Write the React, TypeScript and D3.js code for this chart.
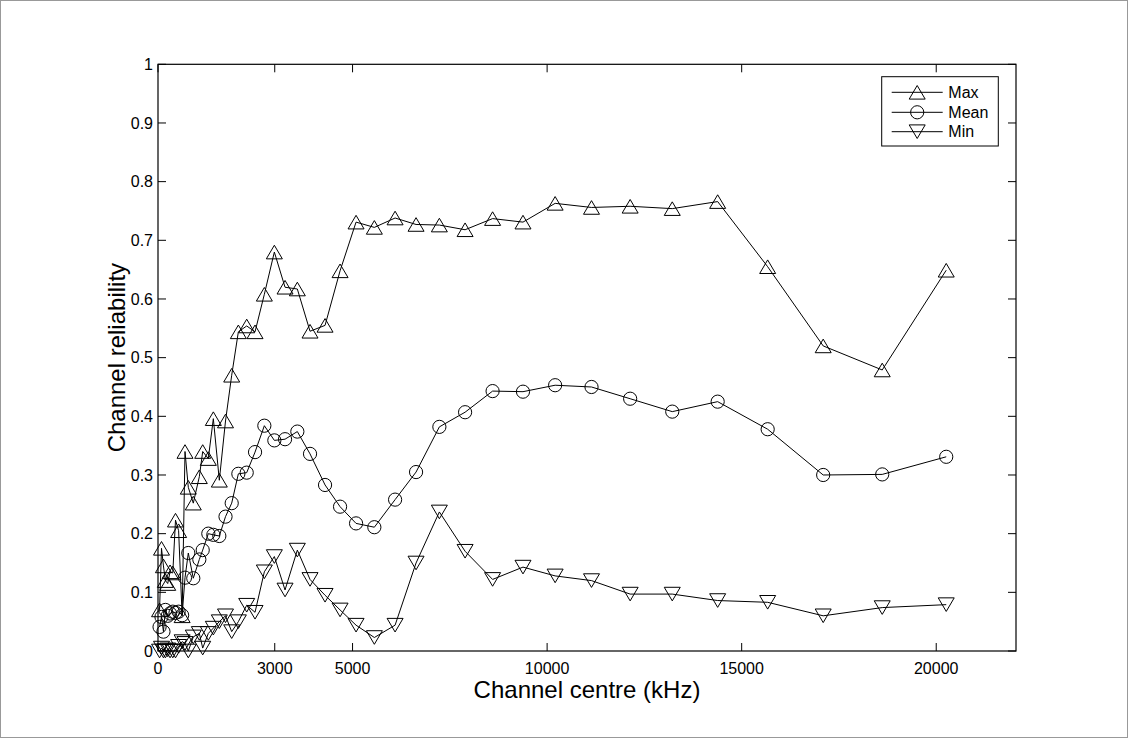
import React from "react";
import * as d3 from "d3";

// Channel centres (kHz axis units as labelled)
const channels = [
  40, 90, 140, 190, 250, 310, 380, 450, 530, 620,
  694, 779, 907, 1062, 1149, 1293, 1422, 1576, 1735, 1894,
  2065, 2280, 2494, 2733, 2990, 3265, 3581, 3907, 4293, 4679,
  5090, 5560, 6093, 6632, 7231, 7892, 8599, 9380, 10206, 11141,
  12134, 13216, 14383, 15668, 17095, 18612, 20257,
];

const maxValues = [
  0.07, 0.175, 0.145, 0.12, 0.115, 0.135, 0.133, 0.223, 0.205, 0.06,
  0.34, 0.279, 0.252, 0.297, 0.34, 0.328, 0.396, 0.291, 0.392, 0.47,
  0.544, 0.554, 0.544, 0.608, 0.68, 0.62, 0.617, 0.545, 0.555, 0.648,
  0.731, 0.722, 0.738, 0.727, 0.726, 0.718, 0.737, 0.731, 0.763, 0.756,
  0.758, 0.754, 0.766, 0.655, 0.52, 0.479, 0.649,
];

const meanValues = [
  0.041, 0.058, 0.033, 0.07, 0.06, 0.064, 0.067, 0.065, 0.067, 0.061,
  0.125, 0.167, 0.124, 0.156, 0.172, 0.2, 0.198, 0.196, 0.229, 0.252,
  0.302, 0.304, 0.339, 0.384, 0.359, 0.361, 0.374, 0.336, 0.283, 0.246,
  0.2175, 0.211, 0.258, 0.305, 0.382, 0.407, 0.443, 0.442, 0.453, 0.45,
  0.43, 0.408, 0.425, 0.378, 0.3, 0.301, 0.331,
];

const minValues = [
  0.0, 0.005, 0.0, 0.0, 0.002, 0.0, 0.0, 0.0, 0.008, 0.016,
  0.013, 0.0, 0.024, 0.03, 0.005, 0.03, 0.039, 0.05, 0.06, 0.033,
  0.05, 0.078, 0.066, 0.135, 0.161, 0.104, 0.172, 0.122, 0.095, 0.07,
  0.044, 0.023, 0.044, 0.15, 0.237, 0.17, 0.122, 0.143, 0.128, 0.12,
  0.097, 0.097, 0.086, 0.083, 0.06, 0.074, 0.079,
];

const xTicks = [0, 3000, 5000, 10000, 15000, 20000];
const xTickLabels = ["0", "3000", "5000", "10000", "15000", "20000"];
const yTicks = [0, 0.1, 0.2, 0.3, 0.4, 0.5, 0.6, 0.7, 0.8, 0.9, 1];
const yTickLabels = ["0", "0.1", "0.2", "0.3", "0.4", "0.5", "0.6", "0.7", "0.8", "0.9", "1"];
const seriesNames = ["Max", "Mean", "Min"];

const W = 1128;
const H = 738;
const L = 158, R = 1016, T = 64.3, B = 651;
const FONT = "'Liberation Sans', Arial, Helvetica, sans-serif";

function Marker({ kind, x, y }: { kind: string; x: number; y: number }) {
  const hw = 8, hh = 6.8;
  if (kind === "up") {
    return <path d={`M${x},${y - hh}L${x + hw},${y + hh}L${x - hw},${y + hh}Z`} fill="none" stroke="#000" strokeWidth={1} />;
  }
  if (kind === "down") {
    return <path d={`M${x},${y + hh}L${x + hw},${y - hh}L${x - hw},${y - hh}Z`} fill="none" stroke="#000" strokeWidth={1} />;
  }
  return <circle cx={x} cy={y} r={6.6} fill="none" stroke="#000" strokeWidth={1} />;
}

export default function App() {
  const x = d3.scaleLinear().domain([0, 22050]).range([L, R]);
  const y = d3.scaleLinear().domain([0, 1]).range([B, T]);
  const line = d3.line<[number, number]>().x((d) => x(d[0])).y((d) => y(d[1]));

  const series = [
    { name: seriesNames[0], values: maxValues, kind: "up" },
    { name: seriesNames[1], values: meanValues, kind: "circle" },
    { name: seriesNames[2], values: minValues, kind: "down" },
  ];

  const tick = 8;
  const legX = 881.7, legY = 76.7, legW = 116.6, legH = 69.3;
  const legRows = [92.3, 112.3, 131.7];

  return (
    <div style={{ position: "absolute", left: 0, top: 0 }}>
      <svg width={W} height={H} style={{ display: "block", background: "#fff" }}>
        <rect x={0.5} y={0.5} width={W - 1} height={H - 1} fill="#fff" stroke="#999" strokeWidth={1} />
        {/* ticks */}
        {xTicks.map((t, i) => (
          <g key={"xt" + i}>
            <line x1={x(t)} x2={x(t)} y1={B} y2={B - tick} stroke="#000" />
            <line x1={x(t)} x2={x(t)} y1={T} y2={T + tick} stroke="#000" />
            <text x={x(t)} y={674} textAnchor="middle" fontFamily={FONT} fontSize={16} fill="#000">
              {xTickLabels[i]}
            </text>
          </g>
        ))}
        {yTicks.map((t, i) => (
          <g key={"yt" + i}>
            <line x1={L} x2={L + tick} y1={y(t)} y2={y(t)} stroke="#000" />
            <line x1={R} x2={R - tick} y1={y(t)} y2={y(t)} stroke="#000" />
            <text x={153} y={y(t) + 5.7} textAnchor="end" fontFamily={FONT} fontSize={16} fill="#000">
              {yTickLabels[i]}
            </text>
          </g>
        ))}
        <rect x={L} y={T} width={R - L} height={B - T} fill="none" stroke="#000" strokeWidth={1.2} />
        {/* series */}
        {series.map((s) => {
          const pts = channels.map((c, i) => [c, s.values[i]] as [number, number]);
          return (
            <g key={s.name}>
              <path d={line(pts) || ""} fill="none" stroke="#000" strokeWidth={1} />
              {pts.map((p, i) => (
                <Marker key={i} kind={s.kind} x={x(p[0])} y={y(p[1])} />
              ))}
            </g>
          );
        })}
        {/* axis titles */}
        <text x={(L + R) / 2} y={698} textAnchor="middle" fontFamily={FONT} fontSize={24} fill="#000">
          Channel centre (kHz)
        </text>
        <text
          transform={`translate(125,${(T + B) / 2}) rotate(-90)`}
          textAnchor="middle"
          fontFamily={FONT}
          fontSize={24}
          fill="#000"
        >
          Channel reliability
        </text>
        {/* legend */}
        <rect x={legX} y={legY} width={legW} height={legH} fill="#fff" stroke="#000" strokeWidth={1} />
        {series.map((s, i) => (
          <g key={"lg" + i}>
            <line x1={891.7} x2={942.7} y1={legRows[i]} y2={legRows[i]} stroke="#000" />
            <Marker kind={s.kind} x={917.2} y={legRows[i]} />
            <text x={948.3} y={legRows[i] + 5.5} fontFamily={FONT} fontSize={16} fill="#000">
              {s.name}
            </text>
          </g>
        ))}
      </svg>
    </div>
  );
}
